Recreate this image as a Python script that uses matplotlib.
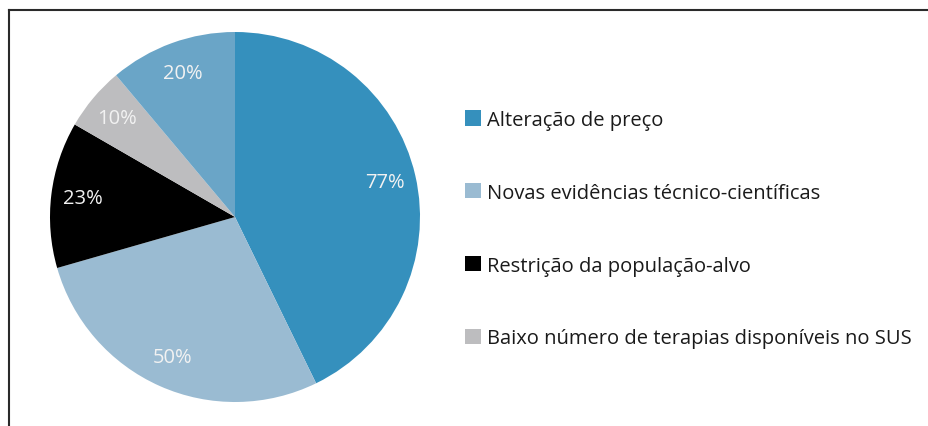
import matplotlib
matplotlib.use("Agg")
import matplotlib.pyplot as plt
from matplotlib.lines import Line2D

plt.rcParams['font.family'] = ['Open Sans', 'DejaVu Sans']

values = [77, 50, 23, 10, 20]
pct_labels = ["77%", "50%", "23%", "10%", "20%"]
colors = ["#3590bd", "#9abbd2", "#000000", "#bdbdbf", "#6aa5c7"]
legend_labels = [
    "Alteração de preço",
    "Novas evidências técnico-científicas",
    "Restrição da população-alvo",
    "Baixo número de terapias disponíveis no SUS",
]

W, H = 929, 427
fig = plt.figure(figsize=(W / 100, H / 100), dpi=100)
fig.patch.set_facecolor("white")

cx, cy, r = 235, 218, 185
ax = fig.add_axes([(cx - r) / W, (H - cy - r) / H, 2 * r / W, 2 * r / H])
wedges, texts = ax.pie(values, colors=colors, startangle=90, counterclock=False,
                       labels=pct_labels, labeldistance=0.83,
                       wedgeprops=dict(linewidth=0),
                       textprops=dict(color="#f2f2f2", fontsize=14.5, ha="center", va="center"))
ax.set_xlim(-1, 1)
ax.set_ylim(-1, 1)
ax.set_aspect("equal")
ax.axis("off")

leg = fig.legend(wedges[:4], legend_labels, loc="upper left",
                 bbox_to_anchor=(465 / W, 1 - 111 / H), frameon=False,
                 fontsize=14.5, labelspacing=2.62, handlelength=0.8, handleheight=0.8,
                 handletextpad=0.28, borderpad=0, borderaxespad=0,
                 labelcolor="#1a1a1a")

# frame lines (top and left)
fx = 8.5 / W
fy = 1 - 10.5 / H
fig.add_artist(Line2D([fx, 1.0], [fy, fy], transform=fig.transFigure, color="#2a2a2a", lw=1.5))
fig.add_artist(Line2D([fx, fx], [0, fy], transform=fig.transFigure, color="#2a2a2a", lw=1.5))

fig.savefig("out.png", dpi=100)
